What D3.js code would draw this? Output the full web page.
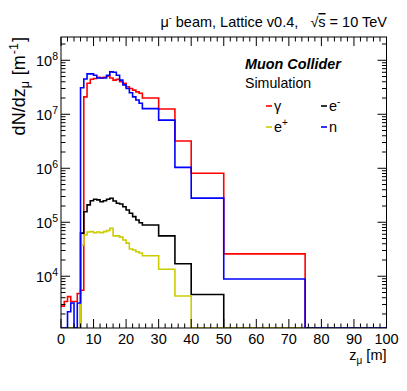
<!DOCTYPE html>
<html>
<head>
<meta charset="utf-8">
<script src="https://cdn.jsdelivr.net/npm/d3@7"></script>
<style>
  body { margin: 0; background: #fff; }
  svg text { font-family: "Liberation Sans", Arial, sans-serif; fill: #000; }
</style>
</head>
<body>
<svg id="chart" width="407" height="391"></svg>
<script>
// bin edges along z (m): 1 m bins up to 25, then wide bins
const binEdges = [0, 1, 2, 3, 4, 5, 6, 7, 8, 9, 10, 11, 12, 13, 14, 15, 16, 17, 18, 19, 20,
  21, 22, 23, 24, 25, 30, 35, 40, 50, 75, 100];

// dN/dz per bin
const photon = [2800, 3400, 4200, 3400, 3400, 4800, 5500,
  2.1e7, 3.75e7, 4.45e7, 4.6e7, 4.85e7, 4.7e7, 4.85e7, 5.1e7, 4.7e7, 4.3e7, 4.45e7, 4.0e7,
  3.75e7, 3.24e7, 3.0e7, 2.8e7, 2.6e7, 2.45e7,
  2.0e7, 1.25e7, 3.2e6, 8.1e5, 2.6e4, 0];
const electron = [0, 0, 0, 0, 0, 0,
  6.3e4, 1.57e5, 2.1e5, 2.5e5, 2.66e5, 2.6e5, 2.4e5, 2.5e5, 2.66e5, 2.78e5, 2.48e5, 2.25e5,
  2.18e5, 1.94e5, 1.69e5, 1.47e5, 1.27e5, 1.1e5, 9.8e4,
  8.9e4, 5.6e4, 1.7e4, 4.6e3, 0, 0];
const positron = [0, 0, 0, 0, 0, 0,
  3.8e4, 5.8e4, 6.6e4, 6.7e4, 6.4e4, 6.6e4, 6.4e4, 6.7e4, 7.0e4, 7.7e4, 5.6e4, 5.6e4,
  5.3e4, 4.7e4, 4.1e4, 3.2e4, 3.07e4, 2.85e4, 2.7e4,
  2.4e4, 1.35e4, 4.3e3, 0, 0, 0];
const neutron = [0, 0, 2200, 3200, 0, 3200,
  3.1e7, 4.5e7, 5.6e7, 5.6e7, 5.3e7, 4.7e7, 4.7e7, 4.7e7, 5.3e7, 6.1e7, 6.0e7, 5.3e7,
  4.3e7, 3.5e7, 3.0e7, 2.5e7, 2.1e7, 1.84e7, 1.6e7,
  1.27e7, 7.8e6, 1.04e6, 2.8e5, 8.9e3, 0];

const xTicks = [0, 10, 20, 30, 40, 50, 60, 70, 80, 90, 100];
const yExponents = [4, 5, 6, 7, 8];

const svg = d3.select('#chart');
const fLeft = 61, fRight = 386.5, fTop = 37, fBottom = 328;

const x = d3.scaleLinear().domain([0, 100]).range([fLeft, fRight]);
const y = d3.scaleLog().domain([1100, 2.7e8]).range([fBottom, fTop]);

svg.append('clipPath').attr('id', 'frame')
  .append('rect').attr('x', fLeft).attr('y', fTop)
  .attr('width', fRight - fLeft).attr('height', fBottom - fTop);

// step outline of one histogram
function stepPath(vals) {
  const ymin = y.domain()[0];
  let p = 'M' + x(binEdges[0]) + ',' + y(Math.max(vals[0], ymin));
  vals.forEach((v, i) => {
    p += 'V' + y(Math.max(v, ymin)) + 'H' + x(binEdges[i + 1]);
  });
  return p;
}

const series = [
  { vals: photon, color: '#ff0000' },
  { vals: electron, color: '#000000' },
  { vals: positron, color: '#cccc00' },
  { vals: neutron, color: '#0000ff' }
];

const g = svg.append('g').attr('clip-path', 'url(#frame)');
series.forEach((s) => {
  g.append('path')
    .attr('d', stepPath(s.vals))
    .attr('fill', 'none')
    .attr('stroke', s.color)
    .attr('stroke-width', 1.6);
});

// frame
svg.append('rect')
  .attr('x', fLeft).attr('y', fTop)
  .attr('width', fRight - fLeft).attr('height', fBottom - fTop)
  .attr('fill', 'none').attr('stroke', '#000').attr('stroke-width', 1);

// x ticks on bottom and top
const xMajor = 9, xMinor = 4.5;
d3.range(0, 101, 2).forEach((v) => {
  const len = v % 10 === 0 ? xMajor : xMinor;
  svg.append('line').attr('x1', x(v)).attr('x2', x(v))
    .attr('y1', fBottom).attr('y2', fBottom - len).attr('stroke', '#000');
  svg.append('line').attr('x1', x(v)).attr('x2', x(v))
    .attr('y1', fTop).attr('y2', fTop + len).attr('stroke', '#000');
});
svg.append('g').selectAll('text').data(xTicks).join('text')
  .attr('x', (d) => x(d)).attr('y', 344)
  .attr('text-anchor', 'middle').attr('font-size', 14.5)
  .text((d) => d);

// y log ticks on left and right
const yMajor = 9, yMinor = 4.5;
y.ticks().forEach((v) => {
  const isMajor = Math.abs(Math.log10(v) - Math.round(Math.log10(v))) < 1e-9;
  const len = isMajor ? yMajor : yMinor;
  svg.append('line').attr('x1', fLeft).attr('x2', fLeft + len)
    .attr('y1', y(v)).attr('y2', y(v)).attr('stroke', '#000');
  svg.append('line').attr('x1', fRight).attr('x2', fRight - len)
    .attr('y1', y(v)).attr('y2', y(v)).attr('stroke', '#000');
});
const yl = svg.append('g').selectAll('text').data(yExponents).join('text')
  .attr('x', 58).attr('y', (d) => y(Math.pow(10, d)) + 6)
  .attr('text-anchor', 'end').attr('font-size', 14.5);
yl.append('tspan').text('10');
yl.append('tspan').attr('dy', -6).attr('font-size', 10.5).text((d) => d);

// axis titles
const xt = svg.append('text').attr('x', fRight).attr('y', 360)
  .attr('text-anchor', 'end').attr('font-size', 14.5);
xt.append('tspan').text('z');
xt.append('tspan').attr('dy', 4).attr('font-size', 10).text('μ');
xt.append('tspan').attr('dy', -4).attr('dx', 4).text('[m]');

const yt = svg.append('text')
  .attr('transform', 'translate(25,37) rotate(-90)')
  .attr('text-anchor', 'end').attr('font-size', 18);
yt.append('tspan').text('dN/dz');
yt.append('tspan').attr('dy', 4).attr('font-size', 12.5).text('μ');
yt.append('tspan').attr('dy', -4).attr('dx', 6).text('[m');
yt.append('tspan').attr('dy', -7).attr('dx', 1).attr('font-size', 12.5).text('-1');
yt.append('tspan').attr('dy', 7).attr('dx', 1).text(']');

// header
const hd = svg.append('text').attr('x', 387).attr('y', 27)
  .attr('text-anchor', 'end').attr('font-size', 14.5).style('white-space', 'pre');
hd.append('tspan').text('μ');
hd.append('tspan').attr('dy', -6).attr('font-size', 9).text('-');
hd.append('tspan').attr('dy', 6).text(' beam, Lattice v0.4,   √');
hd.append('tspan').style('text-decoration', 'overline').text('s');
hd.append('tspan').text(' = 10 TeV');

svg.append('text').attr('x', 245).attr('y', 69)
  .attr('font-size', 14.4).attr('font-weight', 'bold').attr('font-style', 'italic')
  .text('Muon Collider');
svg.append('text').attr('x', 245).attr('y', 88)
  .attr('font-size', 14.2).text('Simulation');

// legend
const legend = [
  { color: '#ff0000', x: 266, y: 106, label: 'γ', sup: '' },
  { color: '#000000', x: 321, y: 106, label: 'e', sup: '-' },
  { color: '#cccc00', x: 266, y: 127, label: 'e', sup: '+' },
  { color: '#0000ff', x: 321, y: 127, label: 'n', sup: '' }
];
legend.forEach((l) => {
  svg.append('line').attr('x1', l.x).attr('x2', l.x + 6)
    .attr('y1', l.y).attr('y2', l.y)
    .attr('stroke', l.color).attr('stroke-width', 1.6);
  const t = svg.append('text').attr('x', l.x + 8).attr('y', l.y + 5).attr('font-size', 14.5);
  t.append('tspan').text(l.label);
  if (l.sup) t.append('tspan').attr('dy', -6).attr('font-size', 10).text(l.sup);
});
</script>
</body>
</html>
